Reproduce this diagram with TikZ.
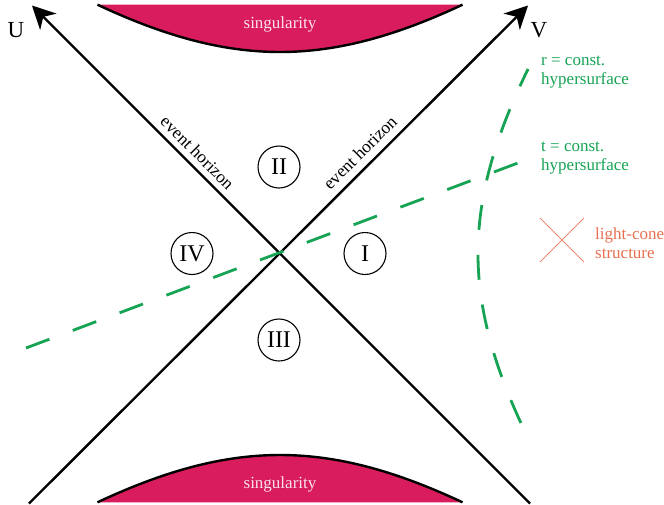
\documentclass[tikz,border=0pt]{standalone}
\usepackage{fontspec}
\setmainfont{Liberation Serif}
\usetikzlibrary{arrows.meta}
\definecolor{singcol}{RGB}{216,28,94}
\definecolor{hypgreen}{RGB}{22,163,84}
\definecolor{conecol}{RGB}{238,140,112}
\definecolor{conetext}{RGB}{232,112,80}
\definecolor{singtext}{RGB}{250,225,235}
\tikzset{
  axisline/.style={line width=2.4pt,-{Stealth[length=23pt,width=23pt,inset=7pt]}},
  singfill/.style={fill=singcol},
  singedge/.style={line width=2.4pt},
  greendash/.style={hypgreen,line width=2.8pt,dash pattern=on 25pt off 25pt},
  numc/.style={draw,circle,line width=1.1pt,minimum size=42pt,inner sep=0pt,font=\fontsize{24}{26}\selectfont},
  axlabel/.style={font=\fontsize{23}{25}\selectfont,inner sep=0pt},
  evlabel/.style={font=\fontsize{17.5}{19}\selectfont,inner sep=0pt},
  greenlabel/.style={hypgreen,font=\fontsize{17}{19}\selectfont,align=left,inner sep=0pt,anchor=west},
  conelabel/.style={conetext,font=\fontsize{17}{19}\selectfont,align=left,inner sep=0pt,anchor=west},
  singlabel/.style={singtext,font=\fontsize{17}{19}\selectfont,inner sep=0pt},
  coneline/.style={conecol,line width=0.9pt}
}
\begin{document}
\begin{tikzpicture}[x=1pt,y=-1pt]
\useasboundingbox (0,0) rectangle (664,504);
% singularities
\fill[singfill] plot[domain=-182.5:182.5,samples=80,variable=\t] ({280+\t},{253.5-201.5*sqrt(1+(\t/252)^2)}) -- cycle;
\draw[singedge] plot[domain=-182.5:182.5,samples=80,variable=\t] ({280+\t},{253.5-201.5*sqrt(1+(\t/252)^2)});
\fill[singfill] plot[domain=-182.5:182.5,samples=80,variable=\t] ({280+\t},{253.5+201.5*sqrt(1+(\t/252)^2)}) -- cycle;
\draw[singedge] plot[domain=-182.5:182.5,samples=80,variable=\t] ({280+\t},{253.5+201.5*sqrt(1+(\t/252)^2)});
\node[singlabel] (s1) at (280,24) {singularity};
\node[singlabel] (s2) at (280,484) {singularity};
% axes
\coordinate (Utip) at (32,5.5);
\coordinate (Ubot) at (530,503.5);
\coordinate (Vtip) at (528,5.5);
\coordinate (Vbot) at (29,503.5);
\draw[axisline] (Ubot) -- (Utip);
\draw[axisline] (Vbot) -- (Vtip);
\node[axlabel] (U) at (16,30) {U};
\node[axlabel] (V) at (539,30) {V};
% event horizon labels
\node[evlabel,rotate=-45] (eh1) at (197.5,152.5) {event horizon};
\node[evlabel,rotate=45] (eh2) at (360,152.5) {event horizon};
% region labels
\node[numc] (II) at (279,167) {II};
\node[numc] (IV) at (192,253.5) {IV};
\node[numc] (I) at (365,253.5) {I};
\node[numc] (III) at (279,340) {III};
% t = const line
\coordinate (t1) at (26,348);
\coordinate (t2) at (528.5,159);
\draw[greendash] (t1) -- (t2);
% r = const hyperbola
\draw[greendash] plot[domain=169.5:-184.5,samples=100,variable=\t] ({280+198*sqrt(1+(\t/244.5)^2)},{253.5+\t});
% labels
\node[greenlabel] (rl) at (541,72.5) {r = const.\\hypersurface};
\node[greenlabel] (tl) at (541,158.5) {t = const.\\hypersurface};
% light cone
\coordinate (c1) at (540,218);
\coordinate (c2) at (584,262);
\coordinate (c3) at (584,218);
\coordinate (c4) at (540,262);
\draw[coneline] (c1) -- (c2);
\draw[coneline] (c3) -- (c4);
\node[conelabel] (cl) at (595,243) {light-cone\\structure};
\end{tikzpicture}
\end{document}
